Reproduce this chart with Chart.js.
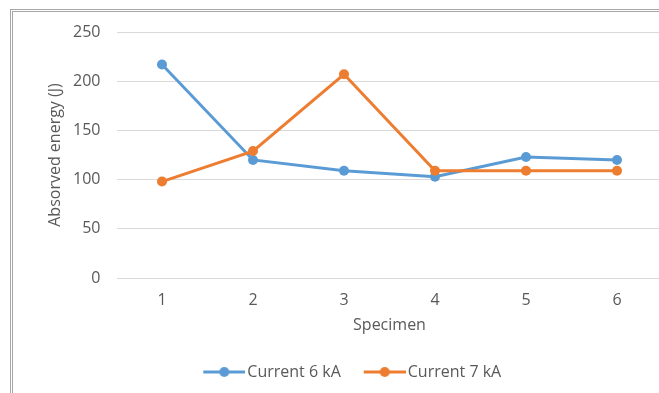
<!DOCTYPE html>
<html>
<head>
<meta charset="utf-8">
<script src="https://cdn.jsdelivr.net/npm/chart.js@4.4.0/dist/chart.umd.min.js"></script>
<style>
    html, body { margin: 0; padding: 0; background: #fff; overflow: hidden; }
    #frame {
        position: absolute; left: 10px; top: 9px; width: 700px; height: 420px;
        border: 3px double #a6a6a6; box-sizing: border-box;
    }
    #wrap { position: absolute; left: 0; top: 0; width: 670px; height: 393px; }
</style>
</head>
<body>
<div id="frame"></div>
<div id="wrap"><canvas id="chart"></canvas></div>
<script>
const specimens = ["1", "2", "3", "4", "5", "6"];
const current6kA = [217, 120, 109, 103, 123, 120];
const current7kA = [98, 129, 207, 109, 109, 109];

const BLUE = "#5B9BD5";
const ORANGE = "#ED7D31";
const TEXT_COLOR = "#595959";
const GRID_COLOR = "#d9d9d9";
const FONT = "'Open Sans', 'DejaVu Sans', sans-serif";

// legend swatch like Excel: a line with the marker in the middle.
// blank space on the left keeps the items apart, like the Excel legend.
const SWATCH_GAP = 19;
function legendSwatch(color) {
    const c = document.createElement("canvas");
    c.width = 42 + SWATCH_GAP;
    c.height = 12;
    const ctx = c.getContext("2d");
    ctx.strokeStyle = color;
    ctx.lineWidth = 3;
    ctx.beginPath();
    ctx.moveTo(SWATCH_GAP, 6);
    ctx.lineTo(SWATCH_GAP + 42, 6);
    ctx.stroke();
    ctx.fillStyle = color;
    ctx.beginPath();
    ctx.arc(SWATCH_GAP + 21, 6, 5, 0, Math.PI * 2);
    ctx.fill();
    return c;
}

new Chart(document.getElementById("chart"), {
    type: "line",
    data: {
        labels: specimens,
        datasets: [
            {
                label: "Current 6 kA",
                data: current6kA,
                borderColor: BLUE,
                backgroundColor: BLUE,
                borderWidth: 3,
                pointRadius: 5,
                pointBorderWidth: 0,
                order: 1,
            },
            {
                label: "Current 7 kA",
                data: current7kA,
                borderColor: ORANGE,
                backgroundColor: ORANGE,
                borderWidth: 3,
                pointRadius: 5,
                pointBorderWidth: 0,
                order: 0,
            },
        ],
    },
    options: {
        responsive: true,
        maintainAspectRatio: false,
        animation: false,
        layout: {
            padding: { left: 29, right: 7.5, top: 32, bottom: 3 },
        },
        elements: {
            line: { tension: 0 },
            point: { pointStyle: "circle" },
        },
        plugins: {
            tooltip: { enabled: false },
            legend: {
                position: "bottom",
                labels: {
                    usePointStyle: true,
                    pointStyleWidth: 30 + SWATCH_GAP,
                    padding: 10,
                    color: TEXT_COLOR,
                    font: { family: FONT, size: 16 },
                    generateLabels: (chart) =>
                        chart.data.datasets.map((ds, i) => ({
                            text: ds.label,
                            fillStyle: ds.borderColor,
                            strokeStyle: ds.borderColor,
                            fontColor: TEXT_COLOR,
                            pointStyle: legendSwatch(ds.borderColor),
                            datasetIndex: i,
                            hidden: false,
                            lineWidth: 0,
                        })),
                },
            },
        },
        scales: {
            x: {
                offset: true,
                grid: { display: false, drawTicks: false },
                border: { display: false },
                ticks: {
                    color: TEXT_COLOR,
                    padding: 13,
                    font: { family: FONT, size: 16 },
                },
                title: {
                    display: true,
                    text: "Specimen",
                    color: TEXT_COLOR,
                    font: { family: FONT, size: 16 },
                    padding: { top: 19, bottom: 19 },
                },
                afterFit: (scale) => {
                    scale.height = 76;
                },
            },
            y: {
                min: 0,
                max: 250,
                grid: { color: GRID_COLOR, lineWidth: 1, drawTicks: false },
                border: { display: false },
                ticks: {
                    stepSize: 50,
                    color: TEXT_COLOR,
                    padding: 16,
                    font: { family: FONT, size: 16 },
                },
                title: {
                    display: true,
                    text: "Absorved energy (J)",
                    color: TEXT_COLOR,
                    font: { family: FONT, size: 16 },
                    padding: { top: 17, bottom: 17 },
                },
                afterFit: (scale) => {
                    scale.width = 87.5;
                },
            },
        },
    },
});
</script>
</body>
</html>
